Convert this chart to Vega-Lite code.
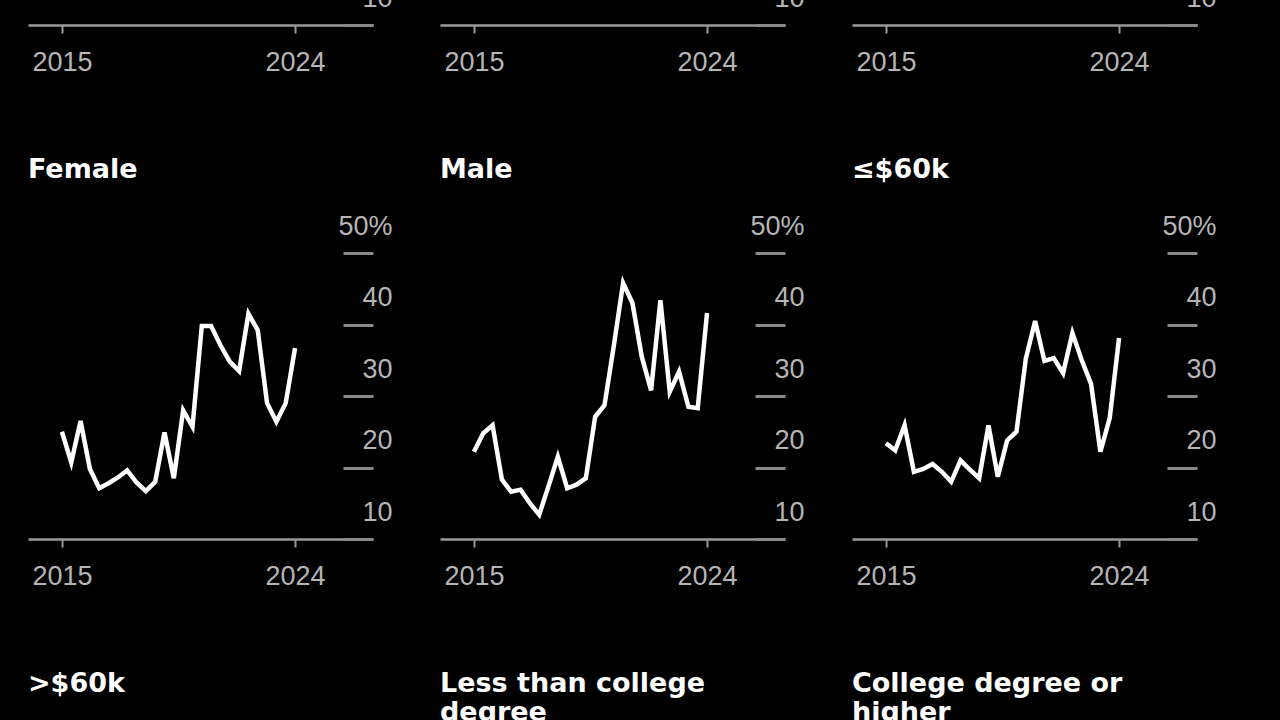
{
  "$schema": "https://vega.github.io/schema/vega-lite/v6.json",
  "background": "black",
  "padding": {"left": 28, "top": -358, "right": 70, "bottom": 0},
  "data": {"values": [
    {"panel": " "}, {"panel": "  "}, {"panel": "   "},
    {"panel": ">$60k"}, {"panel": "Less than college|degree"}, {"panel": "College degree or|higher"},
    {"panel": "Female", "year": 2015.00, "share": 25.0},
    {"panel": "Female", "year": 2015.36, "share": 20.7},
    {"panel": "Female", "year": 2015.72, "share": 26.5},
    {"panel": "Female", "year": 2016.08, "share": 19.8},
    {"panel": "Female", "year": 2016.44, "share": 17.1},
    {"panel": "Female", "year": 2016.80, "share": 17.8},
    {"panel": "Female", "year": 2017.16, "share": 18.6},
    {"panel": "Female", "year": 2017.52, "share": 19.6},
    {"panel": "Female", "year": 2017.88, "share": 17.9},
    {"panel": "Female", "year": 2018.24, "share": 16.7},
    {"panel": "Female", "year": 2018.60, "share": 18.0},
    {"panel": "Female", "year": 2018.96, "share": 24.9},
    {"panel": "Female", "year": 2019.32, "share": 18.5},
    {"panel": "Female", "year": 2019.68, "share": 28.0},
    {"panel": "Female", "year": 2020.04, "share": 25.7},
    {"panel": "Female", "year": 2020.40, "share": 39.8},
    {"panel": "Female", "year": 2020.76, "share": 39.8},
    {"panel": "Female", "year": 2021.12, "share": 37.1},
    {"panel": "Female", "year": 2021.48, "share": 34.8},
    {"panel": "Female", "year": 2021.84, "share": 33.5},
    {"panel": "Female", "year": 2022.20, "share": 41.5},
    {"panel": "Female", "year": 2022.56, "share": 39.2},
    {"panel": "Female", "year": 2022.92, "share": 29.0},
    {"panel": "Female", "year": 2023.28, "share": 26.4},
    {"panel": "Female", "year": 2023.64, "share": 29.0},
    {"panel": "Female", "year": 2024.00, "share": 36.7},
    {"panel": "Male", "year": 2015.00, "share": 22.2},
    {"panel": "Male", "year": 2015.36, "share": 24.8},
    {"panel": "Male", "year": 2015.72, "share": 25.9},
    {"panel": "Male", "year": 2016.08, "share": 18.3},
    {"panel": "Male", "year": 2016.44, "share": 16.6},
    {"panel": "Male", "year": 2016.80, "share": 16.9},
    {"panel": "Male", "year": 2017.16, "share": 15.0},
    {"panel": "Male", "year": 2017.52, "share": 13.4},
    {"panel": "Male", "year": 2017.88, "share": 17.4},
    {"panel": "Male", "year": 2018.24, "share": 21.5},
    {"panel": "Male", "year": 2018.60, "share": 17.1},
    {"panel": "Male", "year": 2018.96, "share": 17.6},
    {"panel": "Male", "year": 2019.32, "share": 18.5},
    {"panel": "Male", "year": 2019.68, "share": 27.1},
    {"panel": "Male", "year": 2020.04, "share": 28.7},
    {"panel": "Male", "year": 2020.40, "share": 37.0},
    {"panel": "Male", "year": 2020.76, "share": 45.8},
    {"panel": "Male", "year": 2021.12, "share": 43.0},
    {"panel": "Male", "year": 2021.48, "share": 35.5},
    {"panel": "Male", "year": 2021.84, "share": 30.8},
    {"panel": "Male", "year": 2022.20, "share": 43.4},
    {"panel": "Male", "year": 2022.56, "share": 30.6},
    {"panel": "Male", "year": 2022.92, "share": 33.4},
    {"panel": "Male", "year": 2023.28, "share": 28.5},
    {"panel": "Male", "year": 2023.64, "share": 28.3},
    {"panel": "Male", "year": 2024.00, "share": 41.6},
    {"panel": "≤$60k", "year": 2015.00, "share": 23.4},
    {"panel": "≤$60k", "year": 2015.36, "share": 22.4},
    {"panel": "≤$60k", "year": 2015.72, "share": 25.9},
    {"panel": "≤$60k", "year": 2016.08, "share": 19.4},
    {"panel": "≤$60k", "year": 2016.44, "share": 19.8},
    {"panel": "≤$60k", "year": 2016.80, "share": 20.5},
    {"panel": "≤$60k", "year": 2017.16, "share": 19.4},
    {"panel": "≤$60k", "year": 2017.52, "share": 18.0},
    {"panel": "≤$60k", "year": 2017.88, "share": 21.0},
    {"panel": "≤$60k", "year": 2018.24, "share": 19.7},
    {"panel": "≤$60k", "year": 2018.60, "share": 18.5},
    {"panel": "≤$60k", "year": 2018.96, "share": 25.9},
    {"panel": "≤$60k", "year": 2019.32, "share": 18.7},
    {"panel": "≤$60k", "year": 2019.68, "share": 23.8},
    {"panel": "≤$60k", "year": 2020.04, "share": 25.0},
    {"panel": "≤$60k", "year": 2020.40, "share": 35.2},
    {"panel": "≤$60k", "year": 2020.76, "share": 40.5},
    {"panel": "≤$60k", "year": 2021.12, "share": 34.9},
    {"panel": "≤$60k", "year": 2021.48, "share": 35.3},
    {"panel": "≤$60k", "year": 2021.84, "share": 33.2},
    {"panel": "≤$60k", "year": 2022.20, "share": 38.8},
    {"panel": "≤$60k", "year": 2022.56, "share": 35.0},
    {"panel": "≤$60k", "year": 2022.92, "share": 31.7},
    {"panel": "≤$60k", "year": 2023.28, "share": 22.2},
    {"panel": "≤$60k", "year": 2023.64, "share": 26.9},
    {"panel": "≤$60k", "year": 2024.00, "share": 38.1}
  ]},
  "facet": {
    "field": "panel",
    "type": "nominal",
    "sort": [" ", "  ", "   ", "Female", "Male", "≤$60k", ">$60k", "Less than college|degree", "College degree or|higher"],
    "header": {
      "title": null,
      "labelExpr": "indexof(datum.label, '|') >= 0 ? split(datum.label, '|') : [datum.label, '']",
      "labelFont": "DejaVu Sans",
      "labelFontSize": 27,
      "labelFontWeight": "bold",
      "labelColor": "white",
      "labelAnchor": "start",
      "labelAlign": "left",
      "labelBaseline": "top",
      "labelLineHeight": 29,
      "labelPadding": -1
    }
  },
  "columns": 3,
  "bounds": "flush",
  "spacing": {"row": 228, "column": 67},
  "resolve": {"axis": {"x": "independent", "y": "independent"}},
  "spec": {
    "width": 345,
    "height": 286,
    "mark": {"type": "line", "color": "white", "strokeWidth": 4.5},
    "encoding": {
      "x": {
        "field": "year", "type": "quantitative",
        "scale": {"domain": [2013.69, 2027.01], "nice": false, "zero": false},
        "axis": {
          "values": [2015, 2024], "format": "d", "title": null, "grid": false,
          "domainColor": "#9a9a9a", "domainWidth": 2.5,
          "tickColor": "#9a9a9a", "tickWidth": 2, "tickSize": 8,
          "labelColor": "#b5b5b5", "labelFont": "Liberation Sans",
          "labelFontSize": 27, "labelPadding": 16, "labelFlush": false, "labelOverlap": false
        }
      },
      "y": {
        "field": "share", "type": "quantitative",
        "scale": {"domain": [10, 50], "nice": false, "zero": false},
        "axis": {
          "orient": "right", "values": [10, 20, 30, 40, 50], "title": null, "grid": false,
          "domain": false,
          "tickColor": "#8a8a8a", "tickWidth": 3, "tickSize": -30,
          "labelExpr": "datum.value == 50 ? '50%' : datum.label",
          "labelColor": "#b5b5b5", "labelFont": "Liberation Sans",
          "labelFontSize": 27, "labelAlign": "right", "labelBaseline": "alphabetic",
          "labelPadding": 49, "labelOffset": -19, "labelOverlap": false, "labelFlush": false
        }
      }
    }
  },
  "config": {
    "view": {"stroke": null}
  }
}
